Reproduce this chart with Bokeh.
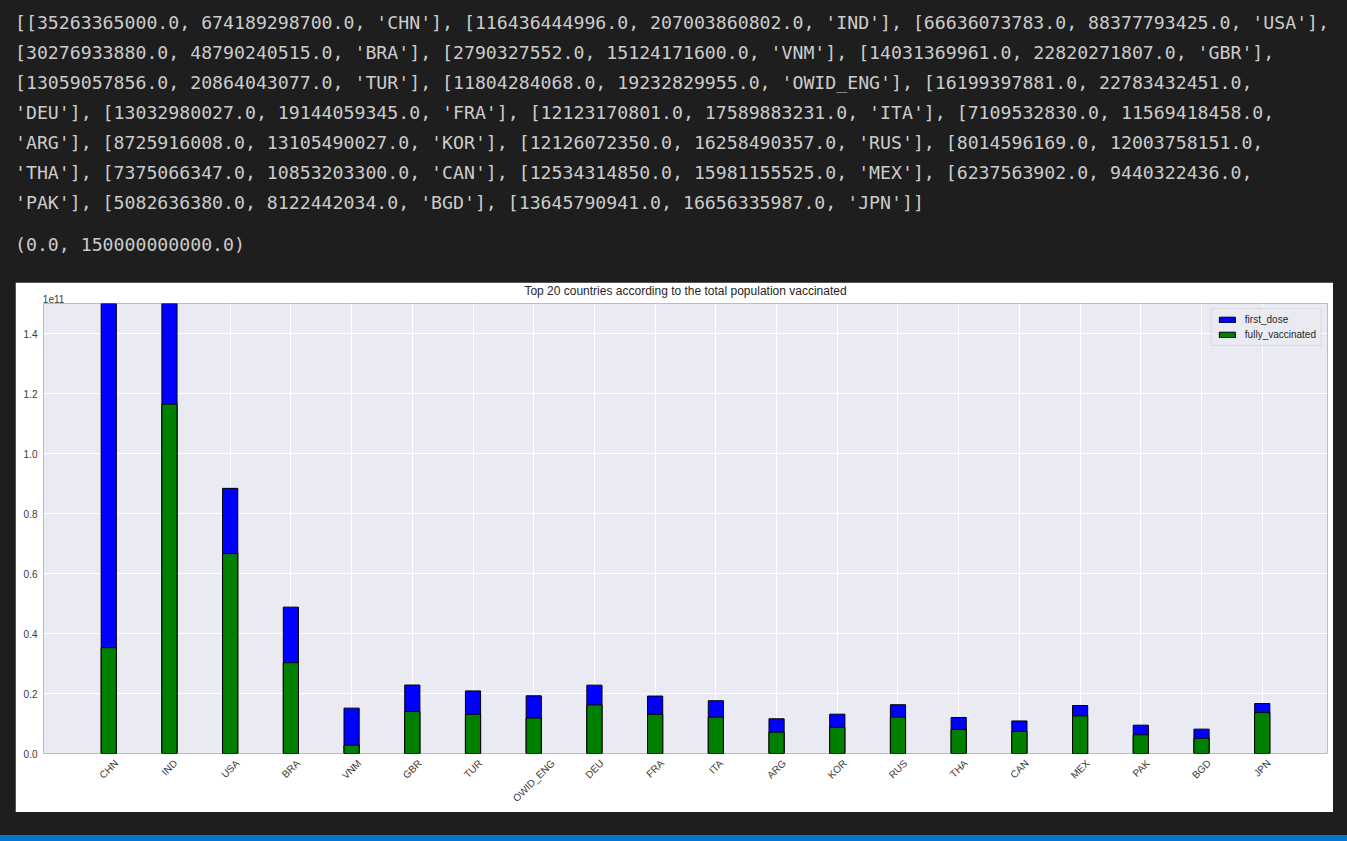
import math
import textwrap
from bokeh.plotting import figure
from bokeh.layouts import column, row
from bokeh.models import (Range1d, FixedTicker, CustomJSTickFormatter,
                          Div, Spacer, LinearAxis)
from bokeh.embed import file_html
from bokeh.resources import INLINE

# ---- data ----
countries = ["CHN", "IND", "USA", "BRA", "VNM", "GBR", "TUR", "OWID_ENG", "DEU", "FRA",
             "ITA", "ARG", "KOR", "RUS", "THA", "CAN", "MEX", "PAK", "BGD", "JPN"]
fully_vaccinated = [35263365000.0, 116436444996.0, 66636073783.0, 30276933880.0, 2790327552.0,
                    14031369961.0, 13059057856.0, 11804284068.0, 16199397881.0, 13032980027.0,
                    12123170801.0, 7109532830.0, 8725916008.0, 12126072350.0, 8014596169.0,
                    7375066347.0, 12534314850.0, 6237563902.0, 5082636380.0, 13645790941.0]
first_dose = [674189298700.0, 207003860802.0, 88377793425.0, 48790240515.0, 15124171600.0,
              22820271807.0, 20864043077.0, 19232829955.0, 22783432451.0, 19144059345.0,
              17589883231.0, 11569418458.0, 13105490027.0, 16258490357.0, 12003758151.0,
              10853203300.0, 15981155525.0, 9440322436.0, 8122442034.0, 16656335987.0]
y_limits = (0.0, 150000000000.0)
y_ticks = [0.0, 0.2e11, 0.4e11, 0.6e11, 0.8e11, 1.0e11, 1.2e11, 1.4e11]
offset_text = "1e11"
title_text = "Top 20 countries according to the total population vaccinated"

# ---- notebook text output ----
records = [[f, d, c] for f, d, c in zip(fully_vaccinated, first_dose, countries)]
lines = textwrap.wrap(repr(records), width=120)
body = "<br>".join(lines)
html = (
    '<div style="padding:8px 0 0 15px; font-family:\'DejaVu Sans Mono\', monospace; '
    'font-size:18.2px; line-height:30px; color:#cccccc; white-space:nowrap;">'
    + body +
    '<div style="margin-top:12px;">' + repr(y_limits) + '</div></div>'
)
text_div = Div(text=html, width=1347, height=282, margin=0,
               styles={"background-color": "#1e1e1e"})

# ---- chart ----
FIG_W, FIG_H = 1318, 530
BL, BR, BT, BB = 28, 6, 21, 59
pad = 1.075
n = len(countries)
xpos = list(range(n))
p = figure(x_range=Range1d(-pad, n - 1 + pad),
           y_range=Range1d(*y_limits),
           width=FIG_W, height=FIG_H, output_backend="svg", toolbar_location=None,
           title=title_text,
           min_border_left=BL, min_border_right=BR, min_border_top=BT, min_border_bottom=BB)
p.margin = 0

p.background_fill_color = "#eaeaf2"
p.border_fill_color = "white"
p.outline_line_color = None

p.vbar(x=xpos, top=first_dose, width=0.25, fill_color="#0000ff",
       line_color="black", line_width=1, legend_label="first_dose")
p.vbar(x=xpos, top=fully_vaccinated, width=0.25, fill_color="#008000",
       line_color="black", line_width=1, legend_label="fully_vaccinated")

bottom_axis = p.below[0]
left_axis = p.left[0]

left_axis.ticker = FixedTicker(ticks=y_ticks)
left_axis.formatter = CustomJSTickFormatter(code="return (tick/1e11).toFixed(1);")

# rotated category labels, centred under each bar like matplotlib's rotation=45
ARIAL = {"A": 667, "B": 667, "C": 722, "D": 722, "E": 667, "F": 611, "G": 778, "H": 722,
         "I": 278, "J": 500, "K": 667, "L": 556, "M": 833, "N": 722, "O": 778, "P": 667,
         "Q": 778, "R": 722, "S": 667, "T": 611, "U": 722, "V": 667, "W": 944, "X": 667,
         "Y": 667, "Z": 611, "_": 556, "e": 556, "1": 556}
px_per_unit = (FIG_W - BL - BR) / (n - 1 + 2 * pad)
tick_pos, overrides = [], {}
for x, c in zip(xpos, countries):
    w = sum(ARIAL.get(ch, 600) for ch in c) / 1000 * 10
    t = x + (w * math.cos(math.pi / 4) / 2) / px_per_unit
    tick_pos.append(t)
    overrides[t] = c
bottom_axis.ticker = FixedTicker(ticks=tick_pos)
bottom_axis.major_label_overrides = overrides

# matplotlib-style offset text "1e11" above the top-left corner of the axes
w_off = sum(ARIAL.get(ch, 600) for ch in offset_text) / 1000 * 10
t_off = p.x_range.start + (w_off / 2 - 1.0) / px_per_unit
top_axis = LinearAxis(ticker=FixedTicker(ticks=[t_off]),
                      major_label_overrides={t_off: offset_text})
p.add_layout(top_axis, "above")

for ax in (bottom_axis, left_axis, top_axis):
    ax.axis_line_color = None
    ax.major_tick_line_color = None
    ax.minor_tick_line_color = None
    ax.major_tick_out = 0
    ax.major_tick_in = 0
    ax.minor_tick_out = 0
    ax.minor_tick_in = 0
    ax.major_label_text_font = "Liberation Sans"
    ax.major_label_text_font_size = "10px"
    ax.major_label_text_color = "#3a3a3a"
left_axis.major_label_standoff = 6
bottom_axis.major_label_standoff = 8
bottom_axis.major_label_orientation = math.pi / 4
top_axis.major_label_standoff = 1
top_axis.major_label_orientation = "horizontal"

p.title.align = "center"
p.title.text_font = "Liberation Sans"
p.title.text_font_size = "12px"
p.title.text_font_style = "normal"
p.title.text_color = "#262626"
p.title.standoff = -13

p.xgrid.ticker = FixedTicker(ticks=xpos)
p.xgrid.grid_line_color = "white"
p.ygrid.grid_line_color = "white"
p.ygrid.ticker = FixedTicker(ticks=y_ticks)

lg = p.legend[0]
lg.location = "top_right"
lg.margin = 5
lg.padding = 5
lg.spacing = 4
lg.background_fill_color = "#eaeaf2"
lg.background_fill_alpha = 0.8
lg.border_line_color = "#cccccc"
lg.label_text_font = "Liberation Sans"
lg.label_text_font_size = "10px"
lg.label_text_color = "#262626"
lg.glyph_width = 20
lg.glyph_height = 7
lg.label_height = 10
lg.label_standoff = 8

fig_row = row(Spacer(width=15, height=FIG_H, margin=0), p, Spacer(width=14, height=FIG_H, margin=0),
              margin=0, styles={"background-color": "#1e1e1e"})
status = Div(text="", width=1347, height=6, margin=0, styles={"background-color": "#007acc"})
layout = column(text_div, fig_row, Spacer(width=1347, height=23, margin=0), status,
                margin=0, styles={"background-color": "#1e1e1e"})

open("out.html", "w").write(file_html(layout, INLINE))
